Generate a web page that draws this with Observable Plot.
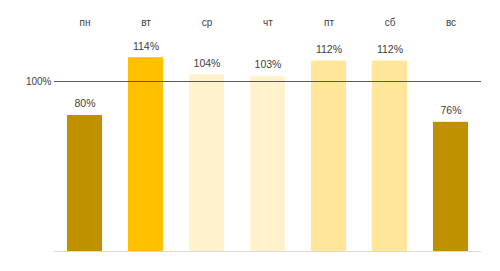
<!DOCTYPE html>
<html>
<head>
<meta charset="utf-8">
<script src="https://cdn.jsdelivr.net/npm/d3@7"></script>
<script src="https://cdn.jsdelivr.net/npm/@observablehq/plot@0.6"></script>
<style>
  html, body { margin: 0; padding: 0; background: #fff; }
  #chart svg { display: block; }
</style>
</head>
<body>
<div id="chart"></div>
<script>
const days = ["пн", "вт", "ср", "чт", "пт", "сб", "вс"];
const values = [80, 114, 104, 103, 112, 112, 76];
const colors = ["#BF9000", "#FFC000", "#FFF2CC", "#FFF2CC", "#FFE699", "#FFE699", "#BF9000"];
const reference = 100;

const data = days.map((d, i) => ({day: d, value: values[i], color: colors[i]}));
const font = "'Liberation Sans', Arial, sans-serif";

const chart = Plot.plot({
  width: 500,
  height: 271,
  marginLeft: 54,
  marginRight: 19,
  marginTop: 30,
  marginBottom: 20,
  style: {fontFamily: font, fontSize: "10px", color: "#404040", background: "#fff"},
  x: {domain: days, paddingInner: 0.426, paddingOuter: 0.213, round: false, axis: null},
  y: {domain: [0, 130], axis: null},
  marks: [
    Plot.ruleY([0], {stroke: "#d9d9d9", strokeWidth: 1}),
    Plot.barY(data, {x: "day", y: "value", fill: "color"}),
    Plot.ruleY([reference], {stroke: "#595959", strokeWidth: 1}),
    Plot.text([reference], {y: d => d, frameAnchor: "left", textAnchor: "end", dx: -3, text: d => d + "%", fill: "#404040", fontSize: 10}),
    Plot.text(data, {x: "day", y: "value", text: d => d.value + "%", dy: -11.5, lineAnchor: "middle", fill: "#404040", fontSize: 10.5}),
    Plot.text(days, {x: d => d, frameAnchor: "top", dy: -8, lineAnchor: "middle", text: d => d, fill: "#404040", fontSize: 10})
  ]
});
document.getElementById("chart").append(chart);
</script>
</body>
</html>
